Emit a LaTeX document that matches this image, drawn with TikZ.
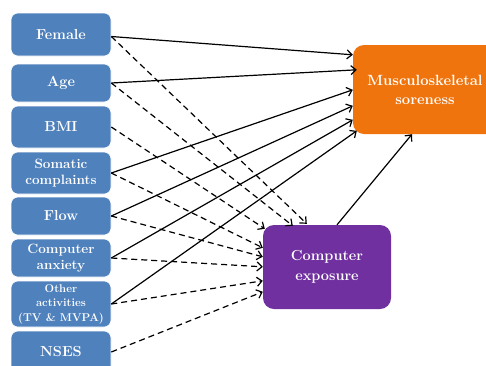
\documentclass[tikz,border=0pt]{standalone}
\usetikzlibrary{arrows.meta}
\definecolor{boxblue}{RGB}{79,129,189}
\definecolor{msorange}{RGB}{240,116,14}
\definecolor{cepurple}{RGB}{112,48,160}
\begin{document}
\begin{tikzpicture}[x=1pt,y=-1pt,
  base/.style={rectangle, rounded corners=7pt, text=white, align=center, font=\bfseries\fontsize{14.5}{15}\selectfont, inner sep=1pt},
  lbox/.style={base, fill=boxblue, draw=white, line width=0.6pt, minimum width=100pt},
  sol/.style={line width=1.2pt, -{Straight Barb[length=5pt,width=9pt]}},
  dsh/.style={sol, dash pattern=on 6pt off 4pt}]
\useasboundingbox (0,0) rectangle (486,365);
\begin{scope}
\clip (0,0) rectangle (486,365);
\node[lbox, minimum height=43pt] (fem) at (61,34.5) {Female};
\node[lbox, minimum height=38pt] (age) at (61,83) {Age};
\node[lbox, minimum height=42pt] (bmi) at (61,127) {BMI};
\node[lbox, minimum height=42pt, font=\bfseries\fontsize{13.5}{16.5}\selectfont] (som) at (61,173) {Somatic\\complaints};
\node[lbox, minimum height=38pt] (flow) at (61,216) {Flow};
\node[lbox, minimum height=38pt, font=\bfseries\fontsize{13.5}{16.5}\selectfont] (anx) at (61,258) {Computer\\anxiety};
\node[lbox, minimum height=46pt, font=\bfseries\fontsize{11.3}{14.5}\selectfont] (oth) at (61,304) {Other\\activities\\(TV \& MVPA)};
\node[lbox, minimum height=42pt] (nses) at (61,352) {NSES};
\node[base, fill=msorange, minimum width=144pt, minimum height=89pt, rounded corners=11pt, font=\bfseries\fontsize{14.8}{19}\selectfont] (ms) at (425,89.5) {Musculoskeletal\\soreness};
\node[base, fill=cepurple, minimum width=128pt, minimum height=84pt, rounded corners=11pt, font=\bfseries\fontsize{14.5}{20}\selectfont] (ce) at (327,267) {Computer\\exposure};
\end{scope}
% solid arrows to musculoskeletal soreness
\draw[sol] ([yshift=-2pt]fem.east) -- ([yshift=-10pt]ms.north west);
\draw[sol] (age.east) -- ([xshift=4pt,yshift=-25pt]ms.north west);
\draw[sol] (som.east) -- ([yshift=-45pt]ms.north west);
\draw[sol] (flow.east) -- ([yshift=-61pt]ms.north west);
\draw[sol] (anx.east) -- ([yshift=-75pt]ms.north west);
\draw[sol] (oth.east) -- ([xshift=4pt,yshift=-86pt]ms.north west);
% dashed arrows to computer exposure
\draw[dsh] ([yshift=-2pt]fem.east) -- ([xshift=44pt,yshift=1pt]ce.north west);
\draw[dsh] (age.east) -- ([xshift=30pt,yshift=-1pt]ce.north west);
\draw[dsh] (bmi.east) -- ([xshift=2pt,yshift=-4pt]ce.north west);
\draw[dsh] (som.east) -- ([yshift=-23pt]ce.north west);
\draw[dsh] (flow.east) -- ([yshift=-32pt]ce.north west);
\draw[dsh] (anx.east) -- ([yshift=-42pt]ce.north west);
\draw[dsh] (oth.east) -- ([yshift=-56pt]ce.north west);
\draw[dsh] (nses.east) -- ([yshift=-67pt]ce.north west);
% computer exposure to musculoskeletal soreness
\draw[sol] ([xshift=10pt]ce.north) -- ([xshift=-13pt]ms.south);
\end{tikzpicture}
\end{document}
